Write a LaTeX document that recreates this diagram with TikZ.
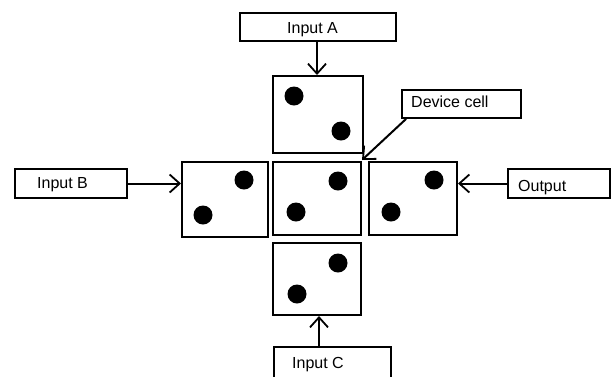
\documentclass[tikz,border=0pt]{standalone}
\usepackage{fontspec}
\setmainfont{Liberation Sans}
\usetikzlibrary{arrows.meta}
\begin{document}
\begin{tikzpicture}[x=1pt,y=-1pt,
  cellbox/.style={draw,line width=2pt,rectangle,inner sep=0pt},
  labelbox/.style={draw,line width=1.8pt,rectangle,inner sep=0pt},
  dot/.style={fill=black,circle,inner sep=0pt,minimum size=19pt},
  lbl/.style={anchor=base west,inner sep=0pt,font=\fontsize{16}{18}\selectfont},
  arr/.style={line width=2pt,-{Straight Barb[length=10pt,width=18pt,line width=1.8pt]}}]
\useasboundingbox (0,0) rectangle (611,376);
\clip (0,0) rectangle (611,376);
% cells
\node[cellbox,minimum width=90pt,minimum height=77pt] (top) at (318,114.5) {};
\node[cellbox,minimum width=86pt,minimum height=75pt] (left) at (225,199.5) {};
\node[cellbox,minimum width=88pt,minimum height=73pt] (center) at (317,198.5) {};
\node[cellbox,minimum width=88pt,minimum height=73pt] (right) at (413,198.5) {};
\node[cellbox,minimum width=88pt,minimum height=72pt] (bottom) at (317,279) {};
% dots
\node[dot] (t1) at (294,96) {};
\node[dot] (t2) at (341,131) {};
\node[dot] (l1) at (244,180) {};
\node[dot] (l2) at (203,215) {};
\node[dot] (c1) at (338,181) {};
\node[dot] (c2) at (296,212) {};
\node[dot] (r1) at (434,180) {};
\node[dot] (r2) at (391,212) {};
\node[dot] (b1) at (338,263) {};
\node[dot] (b2) at (297,294) {};
% label boxes
\node[labelbox,minimum width=156pt,minimum height=28pt] (ina) at (318,27) {};
\node[labelbox,minimum width=112pt,minimum height=29pt] (inb) at (71,183.5) {};
\node[labelbox,minimum width=102pt,minimum height=29pt] (out) at (559,183.5) {};
\node[labelbox,minimum width=119pt,minimum height=28pt] (dev) at (461.5,104) {};
\node[labelbox,minimum width=117pt,minimum height=44pt] (inc) at (332.5,369) {};
% texts
\node[lbl] (ta) at (287,33) {Input A};
\node[lbl] (tb) at (37,188) {Input B};
\node[lbl] (to) at (518,191) {Output};
\node[lbl] (td) at (411,107) {Device cell};
\node[lbl] (tc) at (292,368) {Input C};
% arrows
\draw[arr] (ina.south -| 317,0) -- (top.north -| 317,0);
\draw[arr] (inb.east) -- (left.west |- inb.east);
\draw[arr] (out.west) -- (right.east |- out.west);
\draw[arr] (inc.north -| 319,0) -- (bottom.south -| 319,0);
\coordinate (devtip) at (362,160);
\path (dev.south west) ++(5,0) coordinate (devstart);
\draw[arr] (devstart) -- (devtip);
\end{tikzpicture}
\end{document}
